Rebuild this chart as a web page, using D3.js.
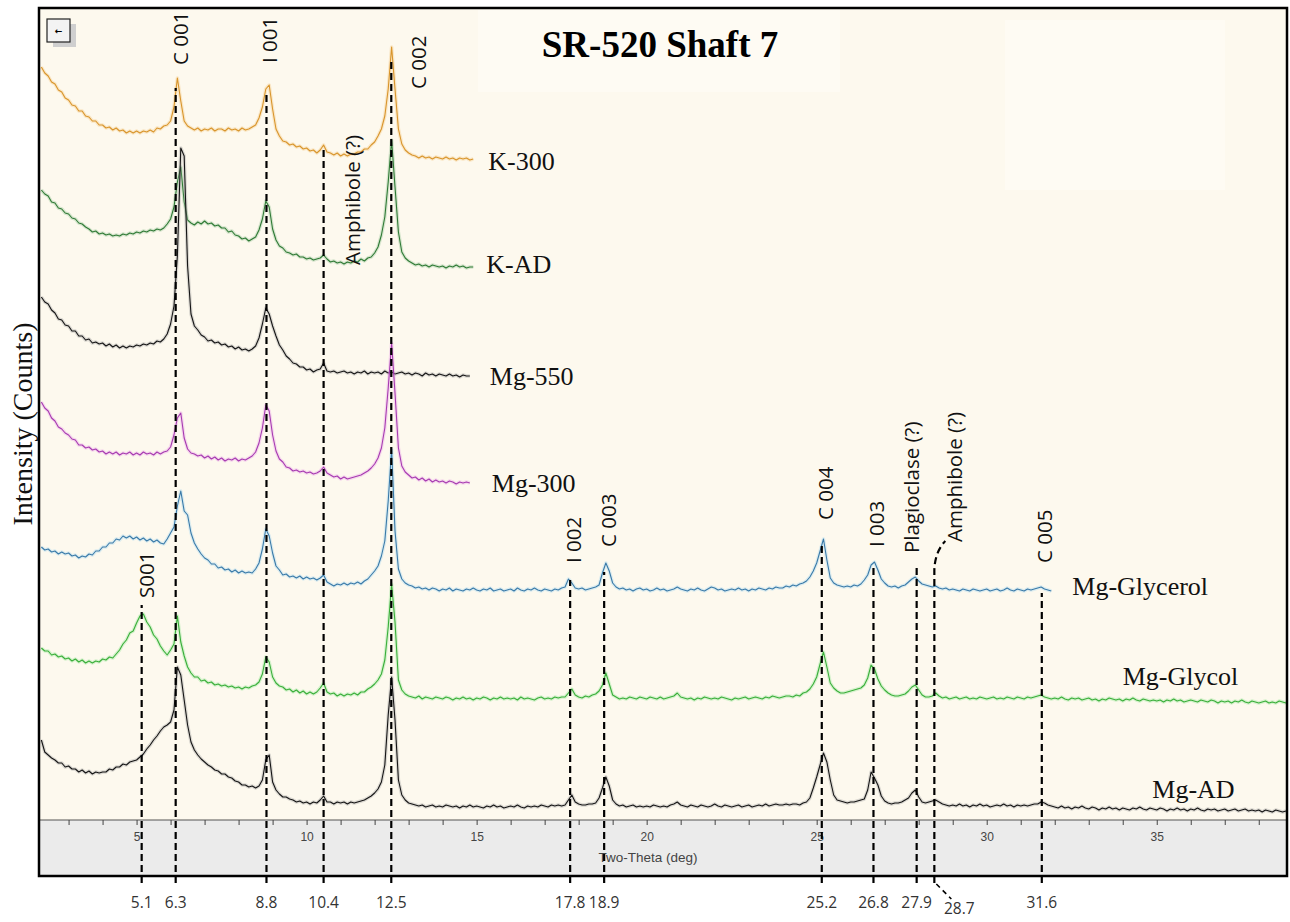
<!DOCTYPE html>
<html>
<head>
<meta charset="utf-8">
<script src="https://cdn.jsdelivr.net/npm/d3@7"></script>
<style>
  body { margin: 0; background: #fff; }
  svg { display: block; }
</style>
</head>
<body>
<div id="plots"></div>
<script>
// every scan is sampled on the same 2-theta grid
const START_DEG = 2.2;
const STEP_DEG = 0.1;

const SERIES_NAMES = ['K-300', 'K-AD', 'Mg-550', 'Mg-300', 'Mg-Glycerol', 'Mg-Glycol', 'Mg-AD'];
const SERIES_OFFSETS = [661, 553, 444, 337, 229, 118, 10]; // stacking offset of each scan (counts)

// intensities above each scan's own offset, one row per degree
const K_300 = [
  92, 86, 83, 77, 75, 69, 67, 61,
  59, 54, 53, 48, 48, 43, 42, 38, 38, 34,
  34, 31, 32, 29, 31, 28, 29, 26, 28, 26,
  28, 26, 28, 27, 29, 27, 31, 30, 33, 34,
  38, 52, 81, 58, 38, 33, 31, 29, 31, 28,
  30, 29, 31, 28, 30, 30, 28, 31, 29, 30,
  28, 31, 29, 30, 32, 34, 41, 52, 70, 74,
  50, 30, 23, 18, 17, 14, 15, 12, 13, 10,
  11, 8, 9, 6, 9, 14, 7, 6, 4, 6,
  3, 5, 3, 5, 5, 7, 7, 10, 10, 14,
  17, 23, 30, 43, 70, 112, 70, 30, 15, 9,
  6, 4, 3, 1, 3, 1, 2, 0, 2, 1,
  0, 2, 0, 1, -1, 1, 0, 1, -1, 0
];
const K_AD = [
  77, 73, 71, 65, 64, 59, 58, 54,
  53, 49, 48, 44, 43, 40, 38, 35, 36, 33,
  34, 32, 33, 31, 32, 31, 33, 32, 34, 33,
  35, 34, 36, 35, 37, 36, 38, 37, 39, 43,
  48, 60, 85, 100, 65, 47, 44, 42, 45, 43,
  46, 43, 44, 41, 42, 39, 39, 35, 36, 32,
  31, 28, 29, 26, 28, 30, 37, 48, 66, 60,
  38, 27, 21, 19, 15, 14, 12, 13, 10, 10,
  8, 9, 7, 8, 9, 12, 8, 5, 6, 4,
  5, 3, 5, 4, 6, 5, 8, 6, 9, 10,
  14, 20, 32, 50, 85, 127, 80, 35, 15, 9,
  6, 4, 2, 3, 1, 2, 0, 2, 1, 0,
  1, -1, 1, 0, 2, 0, 1, -1, 0, 0
];
const MG_550 = [
  79, 74, 72, 66, 63, 57, 56, 51,
  50, 45, 45, 40, 40, 36, 37, 33, 34, 32,
  33, 30, 32, 29, 31, 28, 30, 28, 30, 29,
  31, 30, 32, 31, 33, 32, 35, 34, 37, 42,
  52, 70, 120, 228, 220, 110, 62, 50, 46, 41,
  39, 35, 36, 33, 34, 31, 32, 29, 30, 27,
  29, 26, 27, 25, 27, 30, 38, 52, 68, 62,
  50, 40, 31, 26, 20, 17, 13, 12, 9, 9,
  6, 7, 4, 6, 7, 13, 5, 4, 5, 3,
  4, 5, 3, 4, 2, 4, 3, 5, 2, 4,
  3, 4, 2, 5, 3, 4, 2, 3, 4, 2,
  3, 1, 3, 2, 0, 3, 1, 2, 0, 2,
  1, 0, 2, 0, 1, -1, 1, 0, 0
];
const MG_300 = [
  81, 75, 72, 65, 62, 56, 54, 50,
  48, 44, 43, 38, 38, 35, 36, 33, 34, 31,
  32, 29, 31, 29, 31, 28, 30, 29, 31, 28,
  30, 28, 31, 29, 30, 28, 31, 29, 31, 32,
  36, 48, 65, 70, 45, 34, 30, 29, 27, 28,
  25, 27, 24, 26, 23, 25, 22, 24, 23, 25,
  22, 24, 23, 25, 27, 31, 40, 55, 78, 72,
  48, 32, 24, 21, 16, 15, 12, 13, 11, 12,
  10, 11, 9, 10, 12, 16, 10, 8, 6, 7,
  4, 6, 4, 5, 6, 7, 8, 10, 12, 15,
  19, 25, 35, 55, 95, 140, 90, 35, 17, 11,
  8, 5, 6, 3, 5, 2, 4, 1, 3, 1,
  2, 0, 2, 1, -1, 1, 0, 1, 0
];
const MG_GLYCEROL = [
  44, 41, 42, 39, 40, 37, 39, 37,
  38, 35, 36, 33, 35, 34, 37, 36, 40, 40,
  44, 44, 48, 48, 52, 51, 55, 53, 55, 52,
  54, 51, 53, 50, 52, 49, 51, 48, 47, 52,
  58, 64, 85, 100, 80, 76, 58, 48, 42, 37,
  33, 31, 27, 27, 23, 24, 21, 22, 19, 21,
  18, 20, 18, 19, 18, 22, 28, 42, 62, 55,
  38, 25, 21, 16, 17, 14, 15, 13, 15, 12,
  14, 12, 13, 11, 13, 16, 9, 7, 5, 7,
  6, 8, 6, 8, 7, 9, 7, 10, 12, 16,
  20, 25, 35, 50, 90, 142, 60, 22, 12, 8,
  6, 5, 3, 4, 2, 3, 1, 3, 2, 0,
  2, 1, 3, 0, 2, 1, 0, 2, 1, 3,
  1, 0, 2, 1, 3, 0, 1, 2, 0, 1,
  2, 0, 3, 1, 0, 2, 1, 3, 1, 0,
  2, 1, 0, 2, 1, 3, 4, 12, 8, 3,
  2, 3, 1, 2, 3, 4, 6, 18, 28, 20,
  8, 4, 2, 3, 1, 2, 0, 2, 3, 1,
  2, 0, 1, 3, 1, 2, 0, 1, 2, 4,
  2, 1, 0, 2, 1, 3, 1, 0, 2, 4,
  3, 1, 2, 0, 1, 2, 1, 3, 1, 2,
  0, 2, 1, 3, 2, 1, 3, 2, 4, 3,
  3, 5, 4, 6, 5, 7, 8, 10, 14, 20,
  28, 40, 52, 31, 13, 8, 6, 5, 4, 5,
  4, 6, 5, 7, 11, 16, 26, 29, 21, 12,
  8, 5, 4, 5, 3, 5, 6, 9, 12, 14,
  10, 7, 6, 5, 4, 5, 3, 2, 3, 1,
  2, 1, 0, 2, 1, 0, 2, 1, 0, 1,
  2, 0, 1, 2, 0, 1, 3, 1, 0, 2,
  1, 0, 2, 1, 2, 3, 4, 2, 1, 0
];
const MG_GLYCOL = [
  54, 51, 51, 47, 48, 45, 46, 43,
  44, 41, 43, 40, 42, 39, 41, 39, 41, 40,
  43, 42, 45, 44, 48, 52, 58, 62, 69, 71,
  79, 86, 88, 80, 75, 67, 63, 56, 51, 47,
  52, 58, 86, 60, 46, 35, 29, 25, 25, 21,
  22, 19, 20, 17, 18, 16, 17, 15, 16, 14,
  15, 13, 15, 14, 16, 17, 20, 28, 45, 40,
  25, 19, 16, 15, 12, 13, 10, 12, 9, 11,
  8, 10, 8, 10, 14, 19, 10, 8, 9, 6,
  8, 6, 8, 7, 9, 7, 10, 10, 13, 15,
  18, 22, 28, 42, 75, 118, 80, 22, 12, 8,
  6, 5, 4, 6, 3, 5, 4, 3, 5, 4,
  3, 5, 4, 2, 4, 3, 5, 3, 4, 2,
  4, 3, 5, 4, 2, 4, 3, 5, 3, 4,
  3, 4, 2, 5, 3, 4, 3, 2, 4, 5,
  3, 4, 3, 5, 4, 5, 5, 9, 13, 7,
  5, 4, 6, 5, 7, 8, 11, 17, 29, 18,
  7, 5, 3, 4, 3, 5, 4, 3, 5, 4,
  3, 5, 4, 3, 5, 3, 4, 5, 6, 9,
  5, 4, 3, 4, 2, 4, 3, 5, 4, 3,
  4, 3, 5, 4, 3, 2, 4, 3, 4, 5,
  3, 4, 5, 4, 3, 5, 4, 6, 5, 4,
  5, 6, 6, 5, 7, 6, 9, 10, 13, 18,
  25, 38, 50, 35, 19, 14, 11, 9, 9, 10,
  11, 12, 13, 14, 17, 24, 37, 33, 23, 16,
  12, 9, 7, 6, 6, 7, 8, 11, 15, 17,
  12, 7, 5, 5, 6, 9, 6, 4, 5, 3,
  4, 5, 3, 4, 5, 3, 4, 3, 5, 4,
  3, 4, 5, 3, 4, 3, 5, 4, 3, 5,
  4, 3, 5, 4, 5, 6, 7, 5, 4, 3,
  4, 3, 5, 3, 2, 4, 3, 4, 2, 3,
  4, 2, 3, 1, 3, 2, 4, 3, 2, 3,
  1, 3, 2, 4, 2, 1, 3, 2, 1, 2,
  1, 2, 0, 2, 1, 3, 1, 2, 0, 1,
  2, 1, 0, 2, 1, 0, 2, 1, -1, 1,
  0, 1, -1, 1, 0, 2, 0, -1, 1, 0,
  -1, 0, 1, -1, 0, -1, 1, 0, -1
];
const MG_AD = [
  70, 58, 55, 52, 50, 47, 47, 43,
  44, 41, 41, 38, 40, 37, 39, 36, 38, 37,
  38, 38, 41, 40, 43, 43, 46, 45, 48, 49,
  50, 53, 56, 61, 65, 70, 74, 79, 83, 85,
  88, 100, 143, 135, 110, 85, 68, 60, 55, 51,
  48, 45, 43, 40, 39, 36, 36, 33, 32, 29,
  28, 25, 25, 23, 24, 22, 24, 30, 50, 55,
  28, 20, 16, 13, 13, 11, 10, 8, 9, 7,
  8, 6, 8, 7, 10, 14, 8, 8, 6, 8,
  7, 8, 6, 8, 7, 8, 9, 10, 12, 14,
  17, 21, 28, 45, 95, 133, 90, 30, 15, 10,
  7, 6, 5, 4, 5, 3, 4, 5, 3, 4,
  3, 5, 4, 3, 4, 2, 4, 3, 5, 3,
  4, 3, 2, 4, 3, 5, 3, 4, 2, 3,
  4, 3, 5, 3, 2, 4, 3, 4, 3, 5,
  4, 3, 5, 4, 5, 4, 5, 10, 15, 8,
  6, 5, 5, 6, 6, 7, 12, 22, 33, 24,
  10, 6, 4, 5, 3, 4, 5, 3, 4, 3,
  4, 3, 5, 4, 3, 4, 3, 5, 6, 8,
  5, 4, 3, 5, 4, 3, 5, 4, 3, 4,
  6, 4, 3, 5, 4, 3, 4, 5, 3, 4,
  5, 3, 4, 5, 4, 6, 4, 5, 6, 5,
  5, 6, 5, 6, 6, 5, 7, 8, 12, 22,
  33, 45, 57, 48, 30, 15, 10, 9, 8, 7,
  8, 8, 9, 10, 11, 20, 38, 32, 25, 14,
  9, 7, 6, 7, 7, 8, 10, 12, 17, 20,
  13, 8, 7, 8, 9, 10, 8, 6, 5, 4,
  5, 4, 6, 4, 5, 3, 5, 4, 6, 4,
  5, 3, 4, 5, 4, 6, 4, 5, 3, 5,
  4, 5, 4, 5, 6, 6, 8, 7, 5, 4,
  3, 2, 4, 2, 3, 1, 3, 2, 4, 2,
  1, 3, 2, 0, 2, 1, 3, 1, 2, 0,
  2, 1, 0, 2, 1, 3, 1, 0, 2, 1,
  0, 2, 1, -1, 1, 0, 2, 0, 1, -1,
  1, 0, 2, 0, -1, 1, 0, 1, -1, 0,
  1, -1, 0, 1, -1, 0, 1, -1, 0, -1,
  0, -2, 0, -1, -2, 0, -1, -2, -1
];
const SERIES_VALUES = [K_300, K_AD, MG_550, MG_300, MG_GLYCEROL, MG_GLYCOL, MG_AD];

// marked reflections: drawn position, printed value, scan the line hangs from
const MARK_POS = [5.15, 6.15, 8.82, 10.5, 12.49, 17.75, 18.75, 25.15, 26.67, 27.94, 28.46, 31.62];
const MARK_TEXT = ['5.1', '6.3', '8.8', '10.4', '12.5', '17.8', '18.9', '25.2', '26.8', '27.9', '28.7', '31.6'];
const MARK_FROM = ['Mg-Glycol', 'K-300', 'K-300', 'K-300', 'K-300', 'Mg-Glycerol', 'Mg-Glycerol',
                   'Mg-Glycerol', 'Mg-Glycerol', 'Mg-Glycerol', 'Mg-Glycerol', 'Mg-Glycerol'];
const PEAK_NAMES = ['S001', 'C 001', 'I 001', 'Amphibole (?)', 'C 002', 'I 002', 'C 003',
                    'C 004', 'I 003', 'Plagioclase (?)', 'Amphibole (?)', 'C 005'];

const X_TICKS = d3.range(3, 39);          // minor ticks every degree
const X_LABELS = [5, 10, 15, 20, 25, 30, 35];

// ---- layout (pixels) ----
const W = 1290, H = 922;
const PLOT = {left: 40, right: 1287, top: 8, band: 820, bottom: 876};
const COLORS = ['#d8952c', '#2f7a35', '#151515', '#a63bb0', '#3a7aa8', '#3aae3a', '#151515'];
const GLOWS  = ['#f3c77a', '#8fbf8f', '#9a9a9a', '#e79ae9', '#9fd5f2', '#8fe68f', '#9a9a9a'];
// series label: 'end' = after the last sample, else at a degree above the trace
const LABEL_LAYOUT = [
  {at: 'end', dx: 15, dy: 11}, {at: 'end', dx: 13, dy: 6}, {at: 'end', dx: 20, dy: 9},
  {at: 'end', dx: 22, dy: 9}, {at: 'end', dx: 21, dy: 4}, {at: 34.0, dx: 0, dy: -16},
  {at: 34.87, dx: 0, dy: -11}
];
const MARK_GAP = [-9, 10, 4, 5, 15, 1, 9, 4, 5, -10, -15, 6];       // line top below the apex
const NAME_DX = [4, 4, 2.5, 28, 27, 3, 4, 3, 2.5, -6, 20, 2];        // peak name centre from line
const NAME_BOTTOM = [598, 65, 63, 265, 89, 563, 547, 520, 547, 553, 542, 563];

const x = d3.scaleLinear().domain([2.16, 38.86]).range([PLOT.left, 1288]);
const y = d3.scaleLinear().domain([0, 812]).range([PLOT.band, PLOT.top]);

const series = SERIES_NAMES.map((name, k) => ({
  name: name,
  color: COLORS[k],
  glow: GLOWS[k],
  points: SERIES_VALUES[k].map((v, i) => ({deg: START_DEG + i * STEP_DEG, value: SERIES_OFFSETS[k] + v}))
}));

const SVG = d3.select('#plots')
  .append('svg')
    .attr('width', W)
    .attr('height', H);

SVG.append('rect').attr('width', W).attr('height', H).attr('fill', '#fff');

// plot background + the faintly lighter patches behind title
SVG.append('rect')
  .attr('x', PLOT.left).attr('y', PLOT.top)
  .attr('width', PLOT.right - PLOT.left).attr('height', PLOT.band - PLOT.top)
  .attr('fill', '#fdf9ee');
SVG.append('rect').attr('x', 478).attr('y', 10).attr('width', 362).attr('height', 82).attr('fill', '#fefbf3');
SVG.append('rect').attr('x', 1005).attr('y', 20).attr('width', 220).attr('height', 170).attr('fill', '#fefbf3');

// grey axis band
SVG.append('rect')
  .attr('x', PLOT.left).attr('y', PLOT.band)
  .attr('width', PLOT.right - PLOT.left).attr('height', PLOT.bottom - PLOT.band)
  .attr('fill', '#ebebeb');
SVG.append('line')
  .attr('x1', PLOT.left).attr('x2', PLOT.right)
  .attr('y1', PLOT.band).attr('y2', PLOT.band)
  .attr('stroke', '#555').attr('stroke-width', 1);

const xAxis = d3.axisBottom(x)
  .tickValues(X_TICKS)
  .tickSize(5)
  .tickPadding(7)
  .tickFormat(d => X_LABELS.includes(d) ? d : '');

const gx = SVG.append('g')
  .attr('transform', `translate(0,${PLOT.band})`)
  .call(xAxis);
gx.select('.domain').remove();
gx.selectAll('line').attr('stroke', '#444');
gx.selectAll('text')
  .attr('fill', '#444')
  .style('font', '12px "Liberation Sans", Arial, sans-serif');

SVG.append('text')
  .attr('x', 648).attr('y', 862)
  .attr('text-anchor', 'middle')
  .attr('fill', '#444')
  .style('font', '13.5px "Liberation Sans", Arial, sans-serif')
  .text('Two-Theta (deg)');

// scans
SVG.append('clipPath').attr('id', 'clip')
  .append('rect')
    .attr('x', PLOT.left).attr('y', PLOT.top)
    .attr('width', PLOT.right - PLOT.left).attr('height', PLOT.band - PLOT.top);

const line = d3.line()
  .x(d => x(d.deg))
  .y(d => y(d.value));

const traces = SVG.append('g').attr('clip-path', 'url(#clip)');
series.forEach(s => {
  traces.append('path')          // soft halo like the original export
    .attr('d', line(s.points))
    .attr('fill', 'none')
    .attr('stroke', s.glow)
    .attr('stroke-width', 3.5)
    .attr('stroke-opacity', 0.35)
    .attr('stroke-linejoin', 'round');
  traces.append('path')
    .attr('d', line(s.points))
    .attr('fill', 'none')
    .attr('stroke', s.color)
    .attr('stroke-width', 1.1)
    .attr('stroke-linejoin', 'round');
});

// series names
series.forEach((s, k) => {
  const L = LABEL_LAYOUT[k];
  let px, py;
  if (L.at === 'end') {
    const last = s.points[s.points.length - 1];
    px = x(last.deg) + L.dx;
    py = y(last.value) + L.dy;
  } else {
    const near = s.points.reduce((a, b) => Math.abs(b.deg - L.at) < Math.abs(a.deg - L.at) ? b : a);
    px = x(L.at) + L.dx;
    py = y(near.value) + L.dy;
  }
  SVG.append('text')
    .attr('x', px).attr('y', py)
    .attr('fill', '#111')
    .style('font', '26px "Liberation Serif", "Times New Roman", serif')
    .text(s.name);
});

// dashed reflection markers
const markTop = MARK_POS.map((pos, i) => {
  const s = series[SERIES_NAMES.indexOf(MARK_FROM[i])];
  const apex = d3.max(s.points.filter(d => Math.abs(d.deg - pos) <= 0.051), d => d.value);
  return y(apex) + MARK_GAP[i];
});
const MARK_BOTTOM = 883;

MARK_POS.forEach((pos, i) => {
  const mx = x(pos);
  const hook = MARK_TEXT[i] === '28.7';
  let path = `M${mx},${MARK_BOTTOM}L${mx},${markTop[i]}`;
  if (hook) { // bent leader up to its label
    path += `C${mx},${markTop[i] - 10} ${mx + 3},${markTop[i] - 22} ${mx + 11},${markTop[i] - 30}`;
  }
  SVG.append('path')
    .attr('d', path)
    .attr('fill', 'none')
    .attr('stroke', '#000')
    .attr('stroke-width', 2.2)
    .attr('stroke-dasharray', '7,4');

  if (hook) {
    SVG.append('line')
      .attr('x1', mx + 2).attr('y1', MARK_BOTTOM + 1)
      .attr('x2', mx + 17).attr('y2', MARK_BOTTOM + 16)
      .attr('stroke', '#000').attr('stroke-width', 1.6)
      .attr('stroke-dasharray', '5,4');
  }

  // value under the axis
  SVG.append('text')
    .attr('x', mx + (hook ? 25 : 0))
    .attr('y', hook ? 914 : 908)
    .attr('text-anchor', 'middle')
    .attr('fill', '#333')
    .style('font', '15.5px "Open Sans", sans-serif')
    .text(MARK_TEXT[i]);

  // reflection name, rotated
  SVG.append('text')
    .attr('transform', `translate(${mx + NAME_DX[i]},${NAME_BOTTOM[i]}) rotate(-90)`)
    .attr('dominant-baseline', 'central')
    .attr('fill', '#111')
    .style('font', '20.5px "Open Sans", sans-serif')
    .text(PEAK_NAMES[i]);
});

// frame
SVG.append('rect')
  .attr('x', PLOT.left - 1).attr('y', PLOT.top)
  .attr('width', PLOT.right - PLOT.left + 1).attr('height', PLOT.bottom - PLOT.top)
  .attr('fill', 'none')
  .attr('stroke', '#000')
  .attr('stroke-width', 2.5);

// little zoom-out button of the original software
SVG.append('rect').attr('x', 53).attr('y', 24).attr('width', 23).attr('height', 23).attr('fill', '#cfcfcf');
SVG.append('rect').attr('x', 47).attr('y', 19).attr('width', 23).attr('height', 23)
  .attr('fill', '#f3f3f3').attr('stroke', '#222').attr('stroke-width', 1.2);
SVG.append('text').attr('x', 58.5).attr('y', 34).attr('text-anchor', 'middle')
  .style('font', 'bold 9px "DejaVu Sans", sans-serif').text('←');

// title and y label
SVG.append('text')
  .attr('x', 660).attr('y', 57)
  .attr('text-anchor', 'middle')
  .attr('fill', '#000')
  .style('font', 'bold 37px "Liberation Serif", "Times New Roman", serif')
  .text('SR-520 Shaft 7');

SVG.append('text')
  .attr('transform', 'translate(32,424) rotate(-90)')
  .attr('text-anchor', 'middle')
  .attr('fill', '#111')
  .style('font', '28px "Liberation Serif", "Times New Roman", serif')
  .text('Intensity (Counts)');
</script>
</body>
</html>
